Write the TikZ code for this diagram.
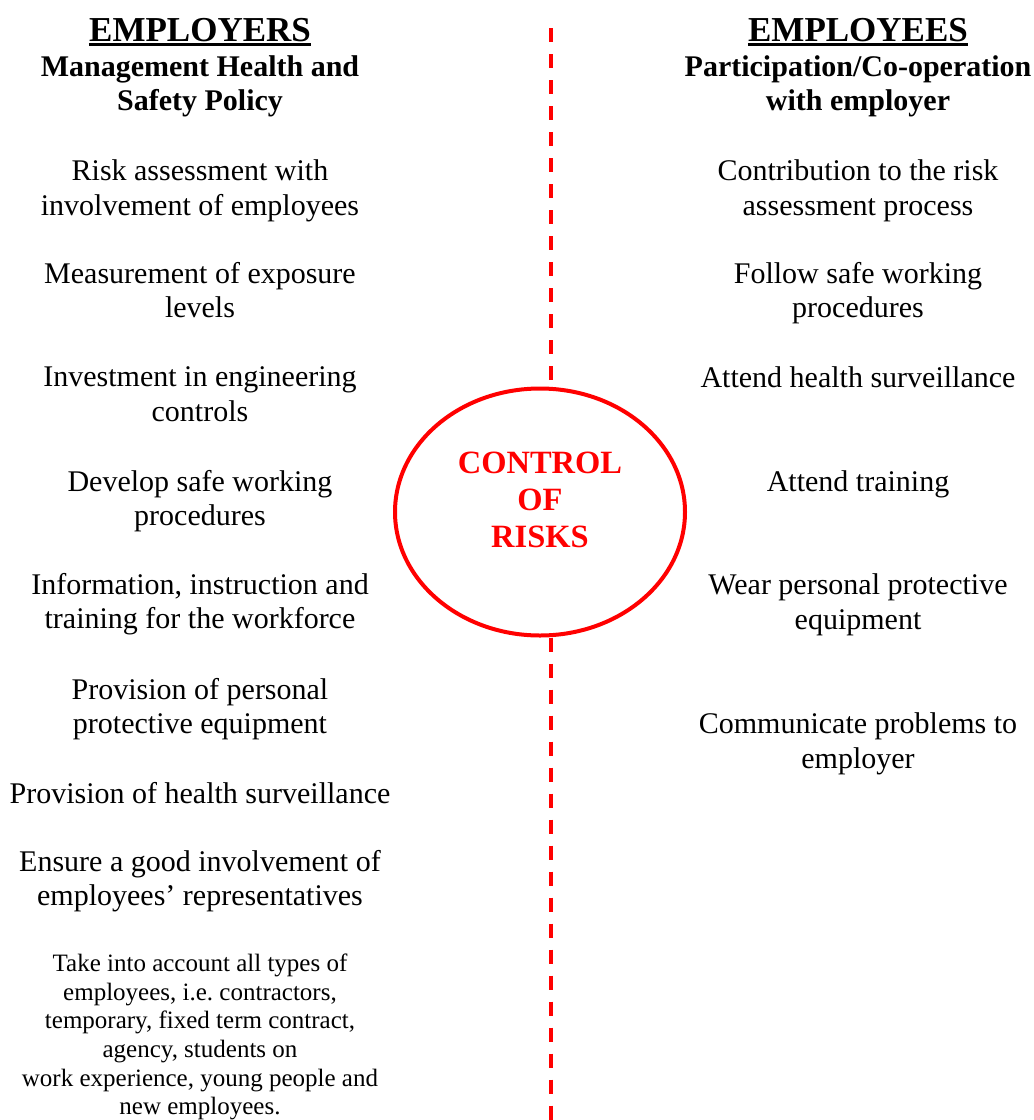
\documentclass[tikz,border=0pt]{standalone}
\usepackage{fontspec}
\setmainfont{Liberation Serif}
\usetikzlibrary{shapes.geometric}

\begin{document}
\begin{tikzpicture}[x=1pt,y=-1pt]

  \tikzstyle{head}=[font=\bfseries\fontsize{35}{38}\selectfont,inner sep=0pt]
  \tikzstyle{subhead}=[align=center,font=\bfseries\fontsize{30}{34}\selectfont,inner sep=0pt]
  \tikzstyle{item}=[align=center,font=\fontsize{30}{34.5}\selectfont,inner sep=0pt]
  \tikzstyle{note}=[align=center,font=\fontsize{25}{28.7}\selectfont,inner sep=0pt]
  \tikzstyle{divider}=[draw=red,line width=3.5pt,dash pattern=on 14pt off 12pt]
  \tikzstyle{risk}=[ellipse,draw=red,line width=4pt,minimum width=290pt,minimum height=247pt]

  \useasboundingbox (0,0) rectangle (1034,1120);

  % Employers
  \node [head]    (er)   at (200,30)    {EMPLOYERS};
  \node [subhead] (ersub) at (200,86)   {Management Health and\\Safety Policy};
  \node [item]    (e1)   at (200,191)   {Risk assessment with\\involvement of employees};
  \node [item]    (e2)   at (200,290)   {Measurement of exposure\\levels};
  \node [item]    (e3)   at (200,394)   {Investment in engineering\\controls};
  \node [item]    (e4)   at (200,501)   {Develop safe working\\procedures};
  \node [item]    (e5)   at (200,604)   {Information, instruction and\\training for the workforce};
  \node [item]    (e6)   at (200,709)   {Provision of personal\\protective equipment};
  \node [item]    (e7)   at (200,793)   {Provision of health surveillance};
  \node [item]    (e8)   at (200,881)   {Ensure a good involvement of\\employees’ representatives};
  \node [note]    (e9)   at (200,1037)  {Take into account all types of\\employees, i.e.\ contractors,\\
    temporary, fixed term contract,\\agency, students on\\work experience, young people and\\new employees.};

  % Employees
  \node [head]    (ee)   at (858,30)    {EMPLOYEES};
  \node [subhead] (eesub) at (858,86)   {Participation/Co-operation\\with employer};
  \node [item]    (p1)   at (858,191)   {Contribution to the risk\\assessment process};
  \node [item]    (p2)   at (858,293)   {Follow safe working\\procedures};
  \node [item]    (p3)   at (858,377)   {Attend health surveillance};
  \node [item]    (p4)   at (858,484)   {Attend training};
  \node [item]    (p5)   at (858,605)   {Wear personal protective\\equipment};
  \node [item]    (p6)   at (858,744)   {Communicate problems to\\employer};

  \draw [line width=3pt] ([yshift=-3pt]er.south west) -- ([yshift=-3pt]er.south east);
  \draw [line width=3pt] ([yshift=-3pt]ee.south west) -- ([yshift=-3pt]ee.south east);

  % Control of risks
  \node [risk] (ctrl) at (540,512) {};
  \node [align=center,text=red,inner sep=0pt,font=\bfseries\fontsize{32.5}{37}\selectfont]
    (ctrltext) at (540,500) {CONTROL\\OF\\RISKS};

  \coordinate (dtop) at (551,28);
  \coordinate (dbot) at (551,1122);
  \draw [divider] (dtop) -- (dtop |- ctrl.north);
  \draw [divider] (dbot |- ctrl.south) -- (dbot);
\end{tikzpicture}
\end{document}
